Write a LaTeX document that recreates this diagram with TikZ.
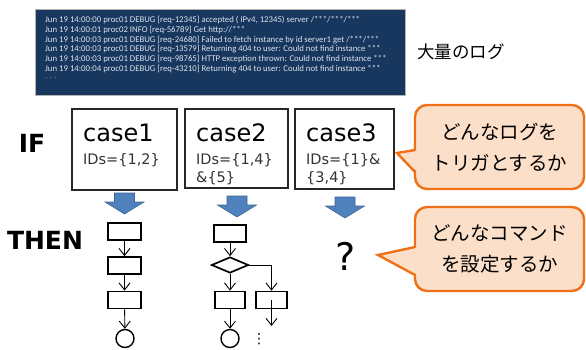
\documentclass[tikz,border=0pt]{standalone}
\usepackage{fontspec}
\setmainfont{DejaVu Sans}
\newfontfamily\jpf{Noto Sans CJK JP}
\newfontfamily\logf{Carlito}
\usetikzlibrary{arrows.meta,shapes.geometric}
\definecolor{logbg}{RGB}{23,55,94}
\definecolor{logtx}{RGB}{222,228,238}
\definecolor{blk}{RGB}{79,129,189}
\definecolor{blkd}{RGB}{60,100,150}
\definecolor{peach}{RGB}{252,223,200}
\definecolor{orng}{RGB}{240,112,24}
\begin{document}
\begin{tikzpicture}[x=1pt,y=-1pt,
  flowbox/.style={draw=black,line width=1.7pt,inner sep=0pt,minimum width=33pt,minimum height=17pt},
  endc/.style={draw=black,circle,line width=1.4pt,inner sep=0pt,minimum size=18pt},
  decis/.style={draw=black,diamond,line width=1.7pt,inner sep=0pt,minimum width=37pt,minimum height=16pt},
  arr/.style={-{Straight Barb[length=7pt,width=11pt]},line width=0.9pt},
  casebox/.style={draw=black!85,line width=1.2pt,inner sep=0pt},
  bigtxt/.style={font=\fontsize{24}{28}\selectfont,anchor=base west,inner sep=0pt},
  idtxt/.style={font=\fontsize{14.5}{18}\selectfont,anchor=base west,inner sep=0pt,text=black!80},
  bluearrow/.style={fill=blk,draw=blkd,line width=0.6pt},
  callbox/.style={draw=orng,fill=peach,line width=2.4pt,rounded corners=12pt,minimum width=169pt,minimum height=84pt,align=center,font=\jpf\fontsize{19.5}{31}\selectfont},
  lbl/.style={font=\bfseries\fontsize{25}{28}\selectfont,inner sep=0pt}]
\useasboundingbox (0,0) rectangle (586,349);

% log box
\node[fill=logbg,draw=gray!60,line width=0.5pt,minimum width=370pt,minimum height=86pt,inner sep=0pt] (logbox) at (220,52) {};
\node[anchor=north west,align=left,inner sep=0pt,text=logtx,font=\logf\fontsize{8.75}{9.7}\selectfont] (logtext) at (45,16) {%
Jun 19 14:00:00 proc01 DEBUG [req-12345] accepted ( IPv4, 12345) server /***/***/***\\
Jun 19 14:00:01 proc02 INFO [req-56789] Get http://***\\
Jun 19 14:00:03 proc01 DEBUG [req-24680] Failed to fetch instance by id server1 get /***/***\\
Jun 19 14:00:03 proc01 DEBUG [req-13579] Returning 404 to user: Could not find instance ***\\
Jun 19 14:00:03 proc01 DEBUG [req-98765] HTTP exception thrown: Could not find instance ***\\
Jun 19 14:00:04 proc01 DEBUG [req-43210] Returning 404 to user: Could not find instance ***\\
$\cdot$ $\cdot$ $\cdot$};
\node[font=\jpf\fontsize{17.5}{20}\selectfont,inner sep=0pt] (taryo) at (461,52) {大量のログ};

% labels
\node[lbl] (iflbl) at (32,143) {IF};
\node[lbl] (thenlbl) at (45,240) {THEN};

% case boxes
\node[casebox,minimum width=105pt,minimum height=81pt] (c1) at (124.5,149.5) {};
\node[casebox,minimum width=103pt,minimum height=79pt] (c2) at (236.5,148.5) {};
\node[casebox,minimum width=99pt,minimum height=80pt] (c3) at (344.5,149) {};
\node[bigtxt] (c1t) at (83,141) {case1};
\node[idtxt] (c1i) at (83,164) {IDs=\{1,2\}};
\node[bigtxt] (c2t) at (196,141) {case2};
\node[idtxt] (c2i) at (196,164) {IDs=\{1,4\}};
\node[idtxt] (c2j) at (196,182) {\&\{5\}};
\node[bigtxt] (c3t) at (306,141) {case3};
\node[idtxt] (c3i) at (306,164) {IDs=\{1\}\&};
\node[idtxt] (c3j) at (306,182) {\{3,4\}};

% blue block arrows
\draw[bluearrow,shift={(124.5,193)}] (-10,0) -- (10,0) -- (10,9) -- (19.5,9) -- (0,21) -- (-19.5,9) -- (-10,9) -- cycle;
\draw[bluearrow,shift={(237,196)}] (-10,0) -- (10,0) -- (10,9) -- (19.5,9) -- (0,21) -- (-19.5,9) -- (-10,9) -- cycle;
\draw[bluearrow,shift={(345,197)}] (-10,0) -- (10,0) -- (10,9) -- (19.5,9) -- (0,21) -- (-19.5,9) -- (-10,9) -- cycle;

% flowchart 1
\node[flowbox] (f1a) at (124.5,231.5) {};
\node[flowbox] (f1b) at (124.5,265.5) {};
\node[flowbox] (f1c) at (124.5,300) {};
\node[endc] (f1d) at (125,338.5) {};
\draw[arr] (f1a) -- (f1b);
\draw[arr] (f1b) -- (f1c);
\draw[arr] (f1c) -- (f1d);

% flowchart 2
\node[flowbox,minimum width=32pt] (f2a) at (230,233.3) {};
\node[decis] (f2d) at (230,265) {};
\node[flowbox,minimum width=30pt] (f2b) at (230,300) {};
\node[endc] (f2c) at (230,338.5) {};
\node[flowbox,minimum width=31pt] (f2r) at (271.5,300) {};
\coordinate (f2e) at (271.5,326);
\draw[arr] (f2a) -- (f2d);
\draw[arr] (f2d) -- (f2b);
\draw[arr] (f2b) -- (f2c);
\draw[arr] (f2d.east) -| (f2r.north);
\draw[arr] (f2r.center) -- (f2e);
\node[font=\fontsize{14}{14}\selectfont,inner sep=0pt] (dots) at (259,339) {⋮};

% question mark
\node[font=\fontsize{38}{40}\selectfont,inner sep=0pt] (qm) at (346,256) {?};

% callouts
\node[callbox] (k1) at (499.5,147) {どんなログを\\トリガとするか};
\fill[peach] (397,153) -- (417,150.5) -- (417,171.5) -- cycle;
\draw[orng,line width=2.4pt,line join=miter] (415,150) -- (397,153) -- (415,172);

\node[callbox] (k2) at (499.5,249) {どんなコマンド\\を設定するか};
\fill[peach] (378,255) -- (417,247.5) -- (417,274.5) -- cycle;
\draw[orng,line width=2.4pt,line join=miter] (415,247) -- (378,255) -- (415,275);
\end{tikzpicture}
\end{document}
